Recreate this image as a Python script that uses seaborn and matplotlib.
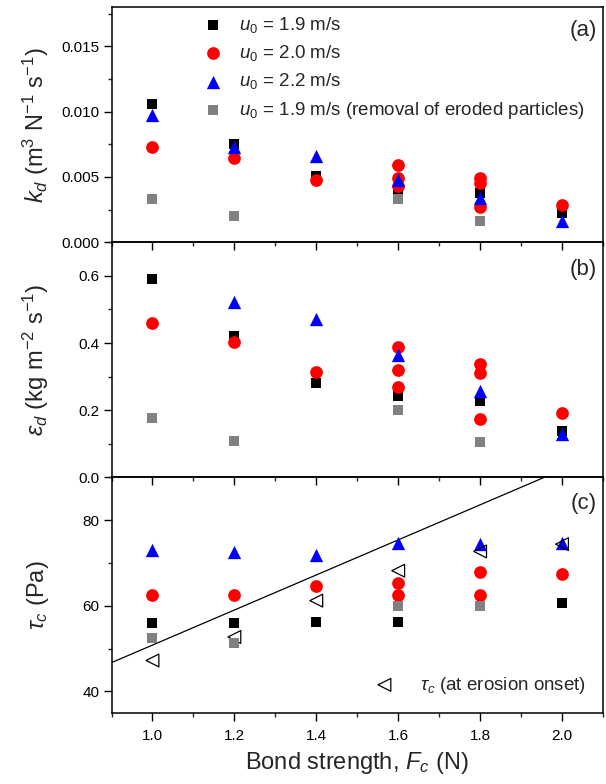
import matplotlib
matplotlib.use("Agg")
import matplotlib.pyplot as plt
from matplotlib.ticker import MultipleLocator, FormatStrFormatter
import seaborn as sns
import numpy as np

sns.set_style("ticks")
plt.rcParams['font.family'] = ['Liberation Sans', 'DejaVu Sans']
plt.rcParams['mathtext.fontset'] = 'custom'
plt.rcParams['mathtext.rm'] = 'Liberation Sans'
plt.rcParams['mathtext.it'] = 'Liberation Sans:italic'
plt.rcParams['mathtext.bf'] = 'Liberation Sans:bold'

# ---- data: (a) deposition coefficient k_d ----
kd_black_F = [1.0, 1.2, 1.4, 1.6, 1.8, 2.0]
kd_black = [0.01056, 0.0075, 0.0051, 0.0041, 0.00377, 0.00222]
kd_red_F = [1.0, 1.2, 1.4, 1.6, 1.6, 1.6, 1.8, 1.8, 1.8, 2.0]
kd_red = [0.00731, 0.00641, 0.00476, 0.00589, 0.00490, 0.00431, 0.00492, 0.00454, 0.00273, 0.00284]
kd_blue_F = [1.0, 1.2, 1.4, 1.6, 1.8, 2.0]
kd_blue = [0.00974, 0.00730, 0.00659, 0.00478, 0.00338, 0.00162]
kd_gray_F = [1.0, 1.2, 1.6, 1.8]
kd_gray = [0.00333, 0.00203, 0.00328, 0.00166]

# ---- data: (b) erosion rate eps_d ----
eps_black_F = [1.0, 1.2, 1.4, 1.6, 1.8, 2.0]
eps_black = [0.590, 0.422, 0.280, 0.241, 0.229, 0.137]
eps_red_F = [1.0, 1.2, 1.4, 1.6, 1.6, 1.6, 1.8, 1.8, 1.8, 2.0]
eps_red = [0.460, 0.404, 0.313, 0.387, 0.320, 0.268, 0.338, 0.311, 0.174, 0.192]
eps_blue_F = [1.2, 1.4, 1.6, 1.8, 2.0]
eps_blue = [0.521, 0.471, 0.364, 0.256, 0.128]
eps_gray_F = [1.0, 1.2, 1.6, 1.8]
eps_gray = [0.177, 0.108, 0.202, 0.105]

# ---- data: (c) critical shear stress tau_c ----
tau_black_F = [1.0, 1.2, 1.4, 1.6, 2.0]
tau_black = [55.9, 55.9, 56.1, 56.3, 60.7]
tau_red_F = [1.0, 1.2, 1.4, 1.6, 1.6, 1.8, 1.8, 2.0]
tau_red = [62.5, 62.6, 64.7, 65.3, 62.5, 68.0, 62.4, 67.4]
tau_blue_F = [1.0, 1.2, 1.4, 1.6, 1.8, 2.0]
tau_blue = [73.1, 72.5, 71.8, 74.7, 74.5, 74.6]
tau_gray_F = [1.0, 1.2, 1.6, 1.8]
tau_gray = [52.5, 51.3, 60.0, 60.0]
onset_F = [1.0, 1.2, 1.4, 1.6, 1.8, 2.0]
tau_onset = [47.2, 52.7, 61.2, 68.2, 72.7, 74.4]

# linear trend line in (c)
fit_slope = 41.0
fit_intercept = 9.8

series_labels = [r'$u_0$ = 1.9 m/s', r'$u_0$ = 2.0 m/s', r'$u_0$ = 2.2 m/s',
                 r'$u_0$ = 1.9 m/s (removal of eroded particles)']
onset_label = r'$\tau_c$ (at erosion onset)'

STYLE = {
    'black': dict(marker='s', color='black', s=60),
    'red': dict(marker='o', color='#ff0000', s=84),
    'blue': dict(marker='^', color='#0000ff', s=92),
    'gray': dict(marker='s', color='#808080', s=60),
}

fig, axes = plt.subplots(3, 1, figsize=(6.06, 7.84), dpi=100, sharex=True,
                         gridspec_kw={'hspace': 0})
fig.subplots_adjust(left=0.184, right=0.995, top=0.991, bottom=0.091)


def draw(ax, F, vals, key, label=None, z=2):
    sns.scatterplot(x=F, y=vals, ax=ax, linewidth=0, label=label, zorder=z, **STYLE[key])


panels = [
    (axes[0], [(kd_black_F, kd_black), (kd_red_F, kd_red), (kd_blue_F, kd_blue), (kd_gray_F, kd_gray)]),
    (axes[1], [(eps_black_F, eps_black), (eps_red_F, eps_red), (eps_blue_F, eps_blue), (eps_gray_F, eps_gray)]),
    (axes[2], [(tau_black_F, tau_black), (tau_red_F, tau_red), (tau_blue_F, tau_blue), (tau_gray_F, tau_gray)]),
]
keys = ['black', 'red', 'blue', 'gray']
zorders = [2, 3, 4, 6]
for i, (ax, data) in enumerate(panels):
    for j, ((F, v), k) in enumerate(zip(data, keys)):
        draw(ax, F, v, k, label=series_labels[j] if i == 0 else None, z=zorders[j])

# open triangles: tau_c at erosion onset
sns.scatterplot(x=onset_F, y=tau_onset, ax=axes[2], marker='<', s=85,
                facecolor='none', edgecolor='black', linewidth=0.9,
                label=onset_label, zorder=5)

# trend line
xl = np.array([0.9, 2.1])
axes[2].plot(xl, fit_slope * xl + fit_intercept, color='black', lw=0.9, zorder=1)

# axes formatting
axes[0].set_ylim(0, 0.018)
axes[0].yaxis.set_major_locator(MultipleLocator(0.005))
axes[0].yaxis.set_minor_locator(MultipleLocator(0.0025))
axes[0].yaxis.set_major_formatter(FormatStrFormatter('%.3f'))
axes[1].set_ylim(0, 0.7)
axes[1].yaxis.set_major_locator(MultipleLocator(0.2))
axes[1].yaxis.set_minor_locator(MultipleLocator(0.1))
axes[1].yaxis.set_major_formatter(FormatStrFormatter('%.1f'))
axes[2].set_ylim(35, 90)
axes[2].yaxis.set_major_locator(MultipleLocator(20))
axes[2].yaxis.set_minor_locator(MultipleLocator(10))
axes[2].set_xlim(0.9, 2.1)
axes[2].xaxis.set_major_locator(MultipleLocator(0.2))
axes[2].xaxis.set_minor_locator(MultipleLocator(0.1))
axes[2].xaxis.set_major_formatter(FormatStrFormatter('%.1f'))

ylabels = [r'$k_d$ (m$^3$ N$^{-1}$ s$^{-1}$)',
           r'$\varepsilon_d$ (kg m$^{-2}$ s$^{-1}$)',
           r'$\tau_c$ (Pa)']
tags = ['(a)', '(b)', '(c)']
tag_y = [0.90, 0.886, 0.889]
for ax, yl, tag, ty in zip(axes, ylabels, tags, tag_y):
    ax.patch.set_visible(False)
    for sp in ax.spines.values():
        sp.set_linewidth(1.1)
        sp.set_color('black')
    ax.tick_params(which='major', direction='out', length=5.8, width=1.0,
                   labelsize=11, pad=3, colors='black')
    ax.tick_params(which='minor', direction='out', length=3.0, width=1.0)
    ax.tick_params(top=False, right=False)
    ax.set_ylabel(yl, fontsize=17)
    ax.yaxis.set_label_coords(-0.124, 0.5)
    ax.text(0.988, ty, tag, transform=ax.transAxes, ha='right', va='center', fontsize=16)

axes[2].tick_params(axis='x', which='major', pad=6)
axes[2].set_xlabel(r'Bond strength, $F_c$ (N)', fontsize=17, labelpad=5)

axes[0].legend(loc='upper left', bbox_to_anchor=(0.16, 1.0), frameon=False,
               fontsize=13.5, handletextpad=0.6, handlelength=1.6,
               labelspacing=0.45, borderaxespad=0.0)
axes[2].legend(loc='lower right', frameon=False, fontsize=13.5,
               handletextpad=1.1, handlelength=1.6, borderaxespad=0.5)

fig.savefig('out.png', dpi=100)
